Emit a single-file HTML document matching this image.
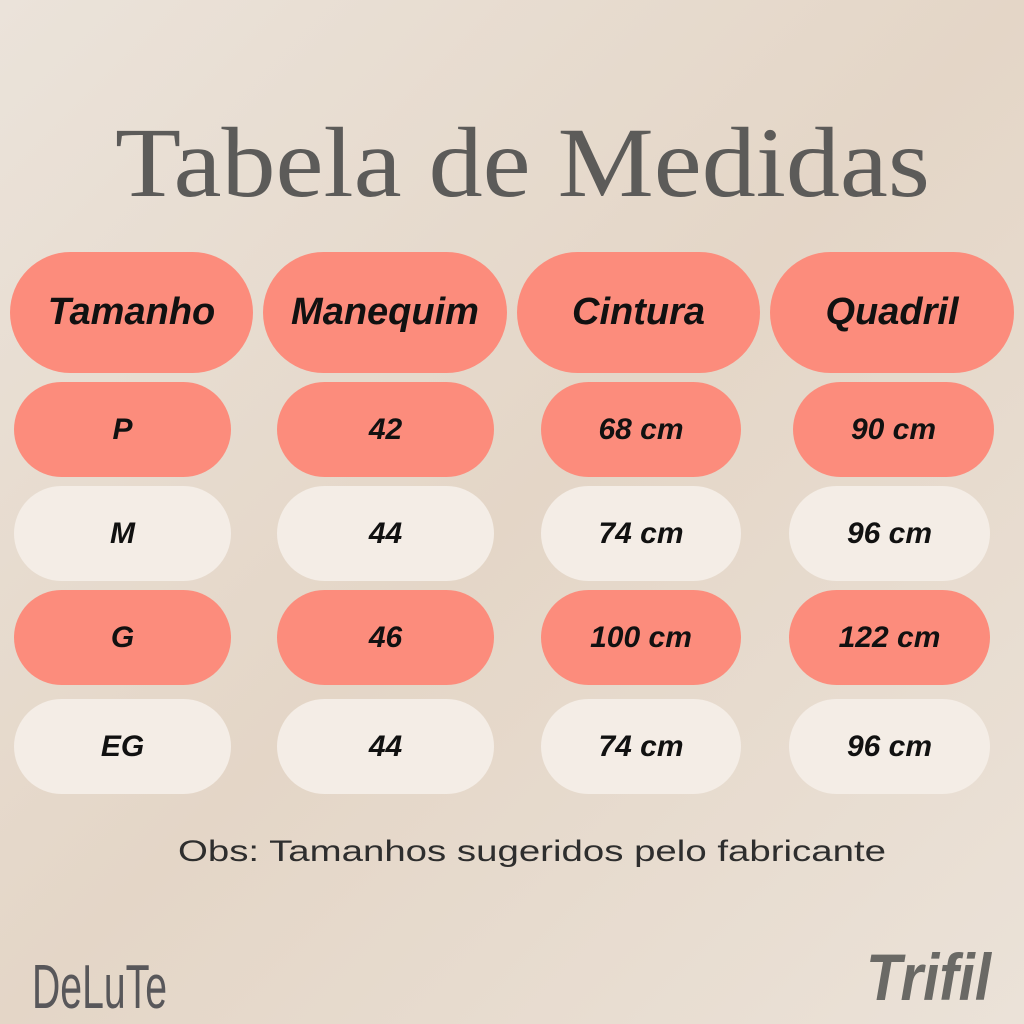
<!DOCTYPE html>
<html><head><meta charset="utf-8"><style>
html,body{margin:0;padding:0}
body{width:1024px;height:1024px;position:relative;overflow:hidden;background:linear-gradient(135deg,#ebe3da 0%,#e4d6c7 50%,#ebe2d8 100%);font-family:"Liberation Sans",sans-serif}
.p{position:absolute;border-radius:60px;display:flex;align-items:center;justify-content:center;font-weight:bold;font-style:italic;color:#111;font-size:30px}
.h{background:#fc8c7c;font-size:38px;border-radius:61px}
.c{background:#fc8c7c}
.l{background:#f4ede6}
</style></head><body>
<svg width="1024" height="1024" style="position:absolute;left:0;top:0">
<text x="115" y="196" textLength="815" lengthAdjust="spacingAndGlyphs" font-family="Liberation Serif" font-size="100" fill="#5c5b59">Tabela de Medidas</text>
<text x="178" y="861" textLength="708" lengthAdjust="spacingAndGlyphs" font-family="Liberation Sans" font-size="30" fill="#2e2e2e">Obs: Tamanhos sugeridos pelo fabricante</text>
<text x="32" y="1008" font-family="Liberation Sans" font-size="62" fill="#58575a" textLength="135" lengthAdjust="spacingAndGlyphs" style="font-weight:100">DeLuTe</text>
<text x="866" y="1000" font-family="Liberation Sans" font-size="66" font-weight="bold" font-style="italic" fill="#6a6965" textLength="125" lengthAdjust="spacingAndGlyphs">Trifil</text>
</svg>
<div class="p h" style="left:10px;top:252px;width:243px;height:121px">Tamanho</div>
<div class="p h" style="left:263px;top:252px;width:244px;height:121px">Manequim</div>
<div class="p h" style="left:517px;top:252px;width:243px;height:121px">Cintura</div>
<div class="p h" style="left:770px;top:252px;width:244px;height:121px">Quadril</div>

<div class="p c" style="left:14px;top:382px;width:217px;height:95px">P</div>
<div class="p c" style="left:277px;top:382px;width:217px;height:95px">42</div>
<div class="p c" style="left:541px;top:382px;width:200px;height:95px">68 cm</div>
<div class="p c" style="left:793px;top:382px;width:201px;height:95px">90 cm</div>

<div class="p l" style="left:14px;top:486px;width:217px;height:95px">M</div>
<div class="p l" style="left:277px;top:486px;width:217px;height:95px">44</div>
<div class="p l" style="left:541px;top:486px;width:200px;height:95px">74 cm</div>
<div class="p l" style="left:789px;top:486px;width:201px;height:95px">96 cm</div>

<div class="p c" style="left:14px;top:590px;width:217px;height:95px">G</div>
<div class="p c" style="left:277px;top:590px;width:217px;height:95px">46</div>
<div class="p c" style="left:541px;top:590px;width:200px;height:95px">100 cm</div>
<div class="p c" style="left:789px;top:590px;width:201px;height:95px">122 cm</div>

<div class="p l" style="left:14px;top:699px;width:217px;height:95px">EG</div>
<div class="p l" style="left:277px;top:699px;width:217px;height:95px">44</div>
<div class="p l" style="left:541px;top:699px;width:200px;height:95px">74 cm</div>
<div class="p l" style="left:789px;top:699px;width:201px;height:95px">96 cm</div>
</body></html>
